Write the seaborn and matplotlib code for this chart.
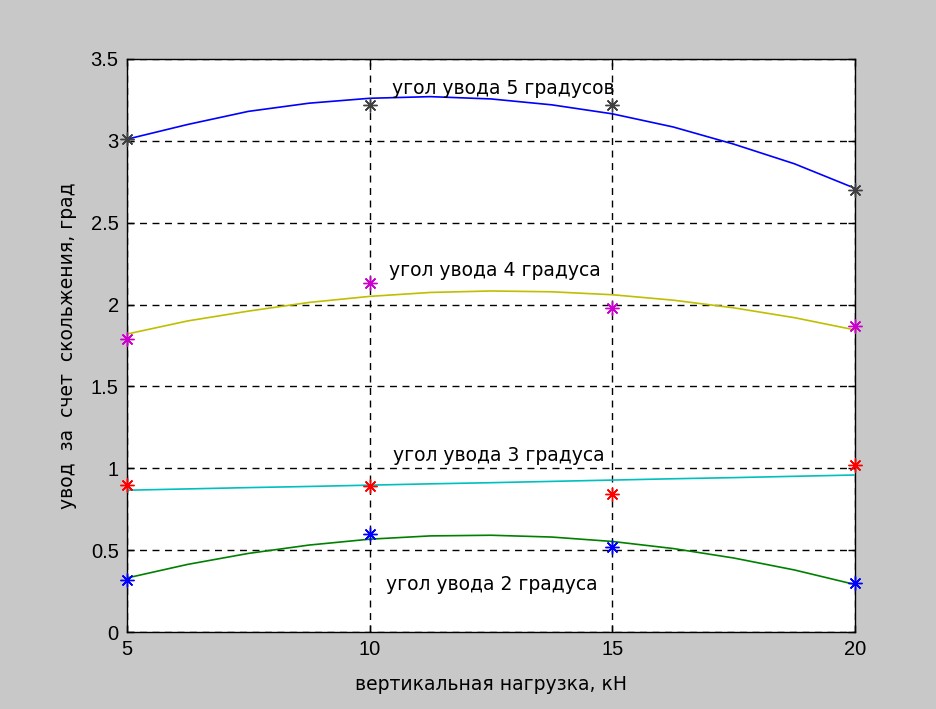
import matplotlib
matplotlib.use("Agg")
import matplotlib.pyplot as plt
import seaborn as sns
import numpy as np

# measured points (markers)
load_kn = [5, 10, 15, 20]
pts_5deg = [3.01, 3.22, 3.22, 2.70]
pts_4deg = [1.79, 2.13, 1.98, 1.87]
pts_3deg = [0.90, 0.89, 0.84, 1.02]
pts_2deg = [0.32, 0.60, 0.52, 0.30]

# smooth approximating curves
curve_x = [5, 6.25, 7.5, 8.75, 10, 11.25, 12.5, 13.75, 15, 16.25, 17.5, 18.75, 20]
curve_5deg = [3.01, 3.10, 3.18, 3.23, 3.26, 3.27, 3.256, 3.22, 3.165, 3.085, 2.98, 2.86, 2.71]
curve_4deg = [1.82, 1.90, 1.96, 2.013, 2.05, 2.074, 2.083, 2.078, 2.06, 2.027, 1.98, 1.92, 1.845]
curve_3deg = [0.866, 0.874, 0.882, 0.889, 0.897, 0.905, 0.912, 0.920, 0.928, 0.936, 0.943, 0.951, 0.959]
curve_2deg = [0.33, 0.413, 0.48, 0.531, 0.567, 0.587, 0.591, 0.58, 0.553, 0.51, 0.452, 0.379, 0.29]

labels = ["угол увода 5 градусов", "угол увода 4 градуса",
          "угол увода 3 градуса", "угол увода 2 градуса"]
label_x = [10.45, 10.4, 10.48, 10.33]
label_y = [3.32, 2.21, 1.08, 0.29]

x_ticks = [5, 10, 15, 20]
y_ticks = [0, 0.5, 1, 1.5, 2, 2.5, 3, 3.5]
y_tick_labels = ["0", "0.5", "1", "1.5", "2", "2.5", "3", "3.5"]

sns.set_theme(style="white")
plt.rcParams['font.family'] = ['DejaVu Sans']

fig = plt.figure(figsize=(9.36, 7.09), dpi=100)
fig.patch.set_facecolor('#c8c8c8')
ax = fig.add_axes([0.1357, 0.1086, 0.7778, 0.8082])
ax.set_facecolor('white')

curve_colors = ['#0000ff', '#bfbf00', '#00bfbf', '#008000']
marker_colors = ['#404040', '#cc00cc', '#ff0000', '#0000ff']
curves = [curve_5deg, curve_4deg, curve_3deg, curve_2deg]
points = [pts_5deg, pts_4deg, pts_3deg, pts_2deg]

for cy, col in zip(curves, curve_colors):
    sns.lineplot(x=curve_x, y=cy, color=col, linewidth=1.2, ax=ax, zorder=3)

for py, mc in zip(points, marker_colors):
    sns.lineplot(x=load_kn, y=py, linestyle='none', marker=(8, 2, 0),
                 markersize=10, markeredgecolor=mc, markerfacecolor=mc,
                 markeredgewidth=1.0, color=mc, ax=ax, zorder=4, clip_on=False)

for t, lx, ly in zip(labels, label_x, label_y):
    ax.text(lx, ly, t, fontsize=13.5, va='center', ha='left', color='black', zorder=5)

ax.set_xlim(5, 20)
ax.set_ylim(0, 3.5)
ax.set_xticks(x_ticks)
ax.set_xticklabels([str(v) for v in x_ticks], family='Liberation Sans')
ax.set_yticks(y_ticks)
ax.set_yticklabels(y_tick_labels, family='Liberation Sans')
ax.tick_params(axis='both', direction='in', length=5, width=1, colors='black',
               labelsize=14.5, pad=6, top=True, right=True, bottom=True, left=True)
ax.grid(True, color='black', linestyle=(0, (5, 4)), linewidth=1.0, zorder=1)
ax.set_axisbelow(True)
for s in ax.spines.values():
    s.set_color('black')
    s.set_linewidth(1.0)

ax.set_xlabel("вертикальная нагрузка, кН", fontsize=13.5, labelpad=11, color='black')
ax.set_ylabel("увод  за  счет  скольжения, град", fontsize=13.5, labelpad=10, color='black')

fig.savefig("out.png", dpi=100, facecolor=fig.get_facecolor())
